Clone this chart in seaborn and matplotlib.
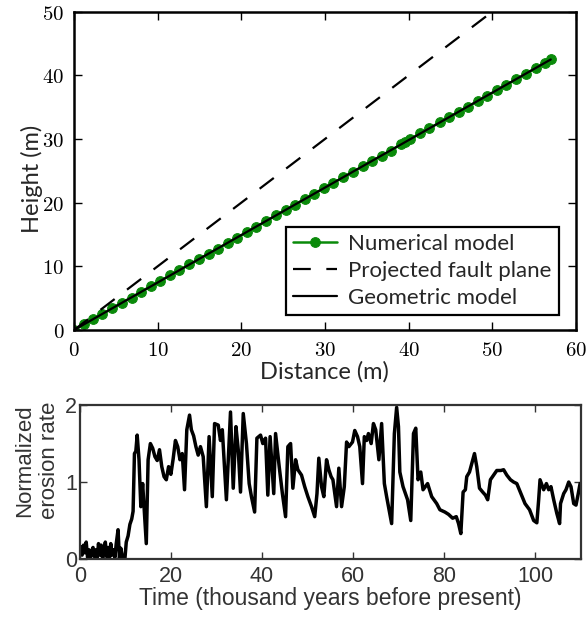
import matplotlib
matplotlib.use("Agg")
import matplotlib.pyplot as plt
import matplotlib.ticker as mticker
import seaborn as sns

# Top panel data
dist_num = [0.0, 1.2, 2.3, 3.4, 4.6, 5.7, 6.9, 8.0, 9.2, 10.3, 11.5, 12.6, 13.8, 14.9,
            16.1, 17.2, 18.4, 19.5, 20.7, 21.8, 23.0, 24.1, 25.3, 26.4, 27.6, 28.7,
            29.9, 31.0, 32.2, 33.3, 34.5, 35.6, 36.8, 37.9, 39.1, 39.6, 40.2, 41.4,
            42.5, 43.7, 44.8, 46.0, 47.1, 48.3, 49.4, 50.6, 51.7, 52.9, 54.0, 55.2,
            56.3, 57.0]
height_num = [0.0, 0.9, 1.7, 2.5, 3.4, 4.3, 5.1, 6.0, 6.9, 7.7, 8.6, 9.4, 10.3, 11.1,
              12.0, 12.8, 13.7, 14.5, 15.4, 16.2, 17.1, 18.0, 18.9, 19.7, 20.6, 21.4,
              22.3, 23.1, 24.0, 24.8, 25.7, 26.5, 27.4, 28.2, 29.2, 29.6, 30.0, 30.9,
              31.7, 32.6, 33.4, 34.3, 35.1, 36.0, 36.8, 37.7, 38.5, 39.4, 40.2, 41.2,
              41.9, 42.5]
dist_fault = [0, 50]
height_fault = [0, 50]
dist_geom = [0, 57]
height_geom = [0, 42.5]

# Bottom panel data
time_kyr = [0.2, 0.5, 0.8, 1.1, 1.4, 1.7, 2.0, 2.3, 2.6, 2.9, 3.2, 3.5, 3.8, 4.1, 4.4,
            4.7, 5.0, 5.3, 5.6, 5.9, 6.2, 6.5, 6.8, 7.1, 7.4, 7.7, 8.0, 8.4, 8.7, 9.0,
            9.3, 9.6, 9.9, 10.2, 10.6, 11.0, 11.4, 11.7, 12.0, 12.3, 12.6, 13.0, 13.4,
            13.8, 14.2, 14.6, 15.0, 15.5, 16.0, 16.5, 17.0, 17.5, 18.0, 18.5, 19.0,
            19.5, 20.0, 20.5, 21.0, 21.5, 22.0, 22.5, 23.0, 23.5, 24.1, 24.5, 25.0,
            25.5, 26.0, 26.5, 27.1, 27.8, 28.4, 29.1, 29.6, 30.4, 30.9, 31.3, 32.2,
            33.1, 33.7, 34.3, 34.8, 35.3, 35.9, 36.6, 37.2, 37.7, 38.4, 38.9, 39.7,
            40.2, 40.8, 41.3, 41.8, 42.6, 43.0, 43.8, 44.5, 45.2, 45.7, 46.3, 46.8,
            47.4, 47.9, 48.7, 49.4, 50.1, 50.9, 51.6, 52.1, 52.5, 53.1, 53.6, 54.2,
            54.7, 55.2, 55.6, 55.9, 56.4, 56.9, 57.5, 58.1, 58.6, 59.1, 59.9, 60.4,
            61.0, 61.5, 62.1, 62.5, 63.0, 63.4, 64.0, 64.5, 65.0, 65.7, 66.3, 66.9,
            67.4, 68.5, 69.1, 69.6, 70.0, 70.3, 71.0, 72.0, 72.7, 73.3, 73.8, 74.3,
            74.9, 75.4, 76.4, 77.3, 78.4, 79.1, 80.2, 81.0, 81.9, 82.7, 83.2, 83.7,
            84.2, 84.7, 85.0, 85.6, 86.1, 86.7, 87.2, 87.8, 88.5, 89.1, 89.6, 90.2,
            90.9, 91.6, 92.5, 93.1, 93.8, 94.6, 95.3, 96.0, 96.9, 97.8, 98.8, 99.7,
            100.4, 100.8, 101.1, 101.9, 102.5, 103.0, 103.5, 104.1, 104.8, 105.4,
            105.6, 106.3, 106.8, 107.4, 107.9, 108.5, 109.0, 109.5, 109.9]
erosion = [0.16, 0.05, 0.18, 0.08, 0.22, 0.02, 0.12, 0.0, 0.1, 0.15, 0.03, 0.12, 0.0,
           0.2, 0.05, 0.18, 0.0, 0.1, 0.22, 0.03, 0.15, 0.0, 0.2, 0.05, 0.12, 0.02,
           0.2, 0.38, 0.0, 0.14, 0.04, 0.0, 0.0, 0.22, 0.3, 0.45, 0.52, 0.62, 1.37,
           1.40, 1.61, 1.29, 0.68, 0.98, 0.6, 0.2, 1.29, 1.5, 1.44, 1.33, 1.28, 1.42,
           1.2, 1.07, 1.03, 1.2, 1.1, 1.3, 1.54, 1.46, 1.29, 1.37, 0.9, 1.68, 1.87,
           1.68, 1.6, 1.46, 1.35, 1.46, 1.33, 0.68, 1.59, 0.81, 1.76, 1.74, 1.54,
           1.68, 0.77, 1.91, 0.92, 1.72, 1.42, 0.87, 1.89, 1.5, 0.98, 0.81, 0.61,
           1.57, 1.61, 1.5, 1.57, 0.83, 1.59, 0.85, 1.63, 1.2, 0.85, 0.55, 1.46, 1.5,
           0.92, 1.29, 1.16, 1.09, 0.94, 0.81, 0.68, 0.55, 0.85, 1.31, 0.94, 0.81,
           1.29, 1.16, 1.07, 1.03, 0.9, 0.68, 1.18, 0.68, 0.94, 1.52, 1.46, 1.52,
           1.67, 1.59, 1.46, 0.98, 1.59, 1.54, 1.63, 1.5, 1.76, 1.68, 1.29, 1.76,
           0.98, 0.81, 0.46, 1.63, 1.97, 1.72, 1.13, 0.94, 0.77, 0.5, 1.63, 1.7, 1.03,
           1.13, 0.9, 0.98, 0.81, 0.72, 0.64, 0.61, 0.58, 0.53, 0.55, 0.46, 0.33,
           0.87, 0.9, 1.07, 1.13, 1.24, 1.37, 1.2, 0.92, 0.87, 0.83, 0.77, 1.03, 1.09,
           1.15, 1.15, 1.16, 1.09, 1.03, 1.0, 0.98, 0.85, 0.72, 0.64, 0.5, 0.47, 0.77,
           1.03, 0.9, 0.98, 0.9, 0.94, 0.77, 0.59, 0.46, 0.72, 0.85, 0.9, 1.0, 0.94,
           0.72, 0.7, 0.85, 0.98]

sns.set_theme(style="ticks")
plt.rcParams["mathtext.fontset"] = "cm"
plt.rcParams["font.family"] = ["Lato", "DejaVu Sans"]

fig = plt.figure(figsize=(5.87, 6.18), dpi=100)
ax1 = fig.add_axes([0.126, 0.466, 0.855, 0.515])
ax2 = fig.add_axes([0.136, 0.0955, 0.853, 0.249])

green = "#0a8a0a"

# top panel
sns.lineplot(x=dist_num, y=height_num, ax=ax1, color=green, lw=1.8, marker="o",
             markersize=7, markeredgecolor=green, label="Numerical model")
sns.lineplot(x=dist_fault, y=height_fault, ax=ax1, color="black", lw=1.6,
             linestyle=(0, (8, 7)), label="Projected fault plane")
sns.lineplot(x=dist_geom, y=height_geom, ax=ax1, color="black", lw=1.6,
             label="Geometric model")

ax1.set_xlim(0, 60)
ax1.set_ylim(0, 50)
ax1.set_xticks([0, 10, 20, 30, 40, 50, 60])
ax1.set_yticks([0, 10, 20, 30, 40, 50])
fmt = mticker.FuncFormatter(lambda v, p: "$%d$" % v)
ax1.xaxis.set_major_formatter(fmt)
ax1.yaxis.set_major_formatter(fmt)
ax1.tick_params(direction="in", length=6, width=1, top=True, right=True,
                labelsize=15, colors="black", pad=7)
for s in ax1.spines.values():
    s.set_linewidth(1.8)
    s.set_color("black")
ax1.set_xlabel("Distance (m)", fontsize=17, labelpad=1)
ax1.set_ylabel("Height (m)", fontsize=17)
ax1.yaxis.set_label_coords(-0.062, 0.475)

leg = ax1.legend(loc="lower right", bbox_to_anchor=(0.966, 0.047), fontsize=16,
                 frameon=True, fancybox=False, borderaxespad=0, handlelength=2.0,
                 labelspacing=0.32, borderpad=0.32, handletextpad=0.5)
leg.get_frame().set_edgecolor("black")
leg.get_frame().set_linewidth(1.6)
leg.get_frame().set_alpha(1)

# bottom panel
grey = "#333333"
sans = ["Liberation Sans", "DejaVu Sans"]
sns.lineplot(x=time_kyr, y=erosion, ax=ax2, color="black", lw=2.5)
ax2.set_xlim(0, 110)
ax2.set_ylim(0, 2)
ax2.set_xticks([0, 20, 40, 60, 80, 100])
ax2.set_yticks([0, 1, 2])
ax2.tick_params(direction="in", length=5, width=1, top=True, right=True,
                labelsize=15.5, colors=grey)
ax2.tick_params(axis="x", pad=5)
ax2.tick_params(axis="y", pad=2)
for lab in ax2.get_xticklabels() + ax2.get_yticklabels():
    lab.set_family(sans)
for s in ax2.spines.values():
    s.set_linewidth(1.6)
    s.set_color(grey)
ax2.set_xlabel("Time (thousand years before present)", fontsize=16.5, color=grey,
               family=sans, labelpad=0)
ax2.set_ylabel("Normalized\nerosion rate", fontsize=16, color=grey,
               family=sans, linespacing=1.2)
ax2.yaxis.set_label_coords(-0.04, 0.64)

fig.savefig("out.png", dpi=100)
